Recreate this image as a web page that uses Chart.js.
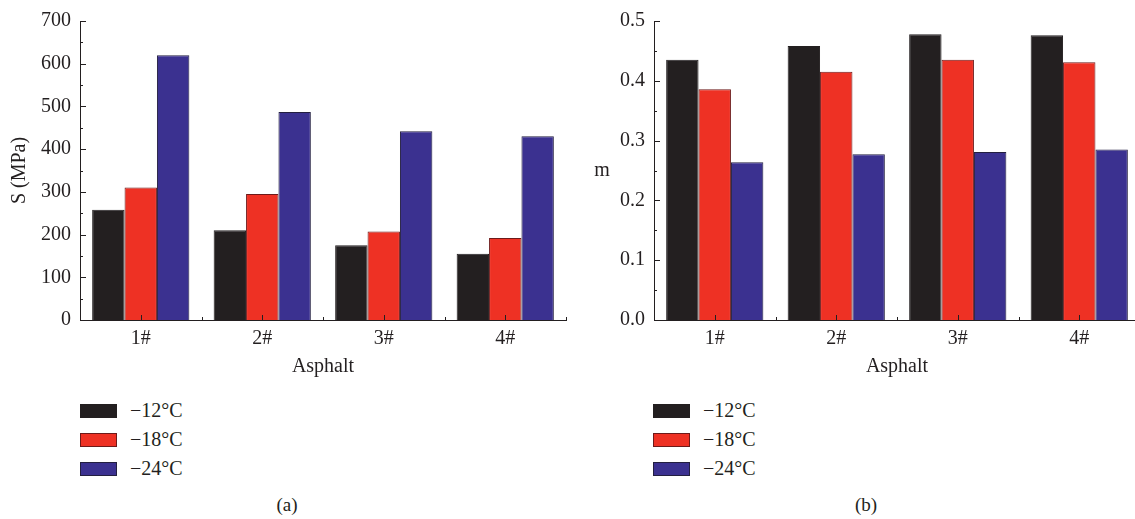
<!DOCTYPE html>
<html>
<head>
<meta charset="utf-8">
<script src="https://cdn.jsdelivr.net/npm/chart.js@4.4.1/dist/chart.umd.min.js"></script>
<style>
    html, body { margin: 0; padding: 0; background: #fff; }
    body { width: 1135px; height: 519px; overflow: hidden; position: relative; font-family: 'Liberation Serif', serif; color: #231f20; }
    .panel { position: absolute; top: 0; }
    #panelA { left: 0; }
    #panelB { left: 560px; }
    .legend { position: absolute; top: 396px; font-size: 20px; }
    .legend .row { height: 29px; display: flex; align-items: center; }
    .legend .box { display: inline-block; width: 35px; height: 12px; margin-right: 13px; border: 1px solid #888; }
    .caption { position: absolute; top: 494px; font-size: 19px; transform: translateX(-50%); }
</style>
</head>
<body>
<div class="panel" id="panelA"><canvas id="chartA" width="590" height="385"></canvas></div>
<div class="panel" id="panelB"><canvas id="chartB" width="600" height="385"></canvas></div>
<div class="legend" id="legendA" style="left:80px"></div>
<div class="legend" id="legendB" style="left:653px"></div>
<div class="caption" style="left:287px">(a)</div>
<div class="caption" style="left:866px">(b)</div>

<script>
// --- データ ---
const categories = ['1#', '2#', '3#', '4#'];
const tempLabels = ['\u221212\u00b0C', '\u221218\u00b0C', '\u221224\u00b0C'];

// (a) クリープスティフネス S (MPa)
const stiffnessM12 = [258, 210, 175, 155];
const stiffnessM18 = [310, 295, 207, 192];
const stiffnessM24 = [620, 487, 442, 430];

// (b) m値
const mValueM12 = [0.435, 0.458, 0.478, 0.476];
const mValueM18 = [0.386, 0.415, 0.435, 0.431];
const mValueM24 = [0.264, 0.277, 0.281, 0.285];

// --- スタイル ---
const AXIS_COLOR = '#231f20';
const FONT = { family: "'Liberation Serif', serif", size: 20 };
const fillColors = ['#231f20', '#ee3124', '#3b3190'];
const borderColors = ['#231f20', '#6d1a1a', '#231f40'];

// 目盛りを内向きに描く（Chart.jsは負のtickLengthが使えないため）
const inwardTicks = {
    id: 'inwardTicks',
    afterDatasetsDraw(chart, args, opts) {
        const { ctx, chartArea, scales: { x, y } } = chart;
        ctx.save();
        ctx.strokeStyle = AXIS_COLOR;
        ctx.lineWidth = 1;
        ctx.beginPath();
        const n = Math.round((y.max - y.min) / opts.minorStep);
        for (let i = 0; i <= n; i++) {
            const py = Math.round(y.getPixelForValue(y.min + i * opts.minorStep)) + 0.5;
            ctx.moveTo(chartArea.left, py);
            ctx.lineTo(chartArea.left + (i % 2 === 0 ? 6 : 3), py);
        }
        for (let i = 0; i < categories.length; i++) {
            const center = Math.round(x.getPixelForValue(i)) + 0.5;
            ctx.moveTo(center, chartArea.bottom);
            ctx.lineTo(center, chartArea.bottom - 5);
            const edge = Math.round(x.getPixelForValue(i + 0.5)) + 0.5;
            ctx.moveTo(edge, chartArea.bottom);
            ctx.lineTo(edge, chartArea.bottom - 3);
        }
        ctx.stroke();
        ctx.restore();
    }
};

// 縦軸タイトルを横書きで描く（"m"用）
const flatYTitle = {
    id: 'flatYTitle',
    afterDraw(chart, args, opts) {
        if (!opts.text) return;
        const { ctx, chartArea } = chart;
        ctx.save();
        ctx.font = `${FONT.size}px ${FONT.family}`;
        ctx.fillStyle = AXIS_COLOR;
        ctx.textAlign = 'center';
        ctx.textBaseline = 'middle';
        ctx.fillText(opts.text, opts.x, (chartArea.top + chartArea.bottom) / 2);
        ctx.restore();
    }
};

function buildDatasets(seriesList) {
    return seriesList.map((values, i) => ({
        label: tempLabels[i],
        data: values,
        backgroundColor: fillColors[i],
        borderColor: borderColors[i],
        borderWidth: 1,
        categoryPercentage: 0.8,
        barPercentage: 1.0
    }));
}

function createChart(canvasId, seriesList, cfg) {
    return new Chart(document.getElementById(canvasId), {
        type: 'bar',
        data: { labels: categories, datasets: buildDatasets(seriesList) },
        plugins: [inwardTicks, flatYTitle],
        options: {
            responsive: false,
            animation: false,
            layout: { padding: { top: 17, right: cfg.padRight, left: 0, bottom: 0 } },
            scales: {
                x: {
                    grid: { display: false, drawTicks: false },
                    border: { display: true, color: AXIS_COLOR, width: 1 },
                    ticks: { font: FONT, color: AXIS_COLOR, padding: 7 },
                    title: { display: true, text: 'Asphalt', font: FONT, color: AXIS_COLOR, padding: { top: 4, bottom: 6 } },
                    afterFit: (scale) => { scale.height = 65; }
                },
                y: {
                    min: 0,
                    max: cfg.yMax,
                    grid: { display: false, drawTicks: false },
                    border: { display: true, color: AXIS_COLOR, width: 1 },
                    ticks: {
                        stepSize: cfg.yStep,
                        font: FONT,
                        color: AXIS_COLOR,
                        padding: 9,
                        callback: cfg.tickFormat
                    },
                    title: { display: cfg.rotatedTitle !== '', text: cfg.rotatedTitle, font: FONT, color: AXIS_COLOR, padding: { top: 8, bottom: 0 } },
                    afterFit: (scale) => { scale.width = cfg.yWidth; }
                }
            },
            plugins: {
                legend: { display: false },
                tooltip: { enabled: false },
                inwardTicks: { minorStep: cfg.yStep / 2 },
                flatYTitle: { text: cfg.flatTitle, x: 42 }
            }
        }
    });
}

function renderLegend(chart, elementId) {
    const el = document.getElementById(elementId);
    chart.data.datasets.forEach(ds => {
        const row = document.createElement('div');
        row.className = 'row';
        row.innerHTML = `<span class="box" style="background:${ds.backgroundColor};border-color:${ds.borderColor}"></span><span>${ds.label}</span>`;
        el.appendChild(row);
    });
}

const chartA = createChart('chartA', [stiffnessM12, stiffnessM18, stiffnessM24], {
    yMax: 700, yStep: 100, yWidth: 80, padRight: 24,
    rotatedTitle: 'S (MPa)', flatTitle: '',
    tickFormat: (v) => v
});

const chartB = createChart('chartB', [mValueM12, mValueM18, mValueM24], {
    yMax: 0.5, yStep: 0.1, yWidth: 94, padRight: 20,
    rotatedTitle: '', flatTitle: 'm',
    tickFormat: (v) => Number(v).toFixed(1)
});

renderLegend(chartA, 'legendA');
renderLegend(chartB, 'legendB');
</script>
</body>
</html>
